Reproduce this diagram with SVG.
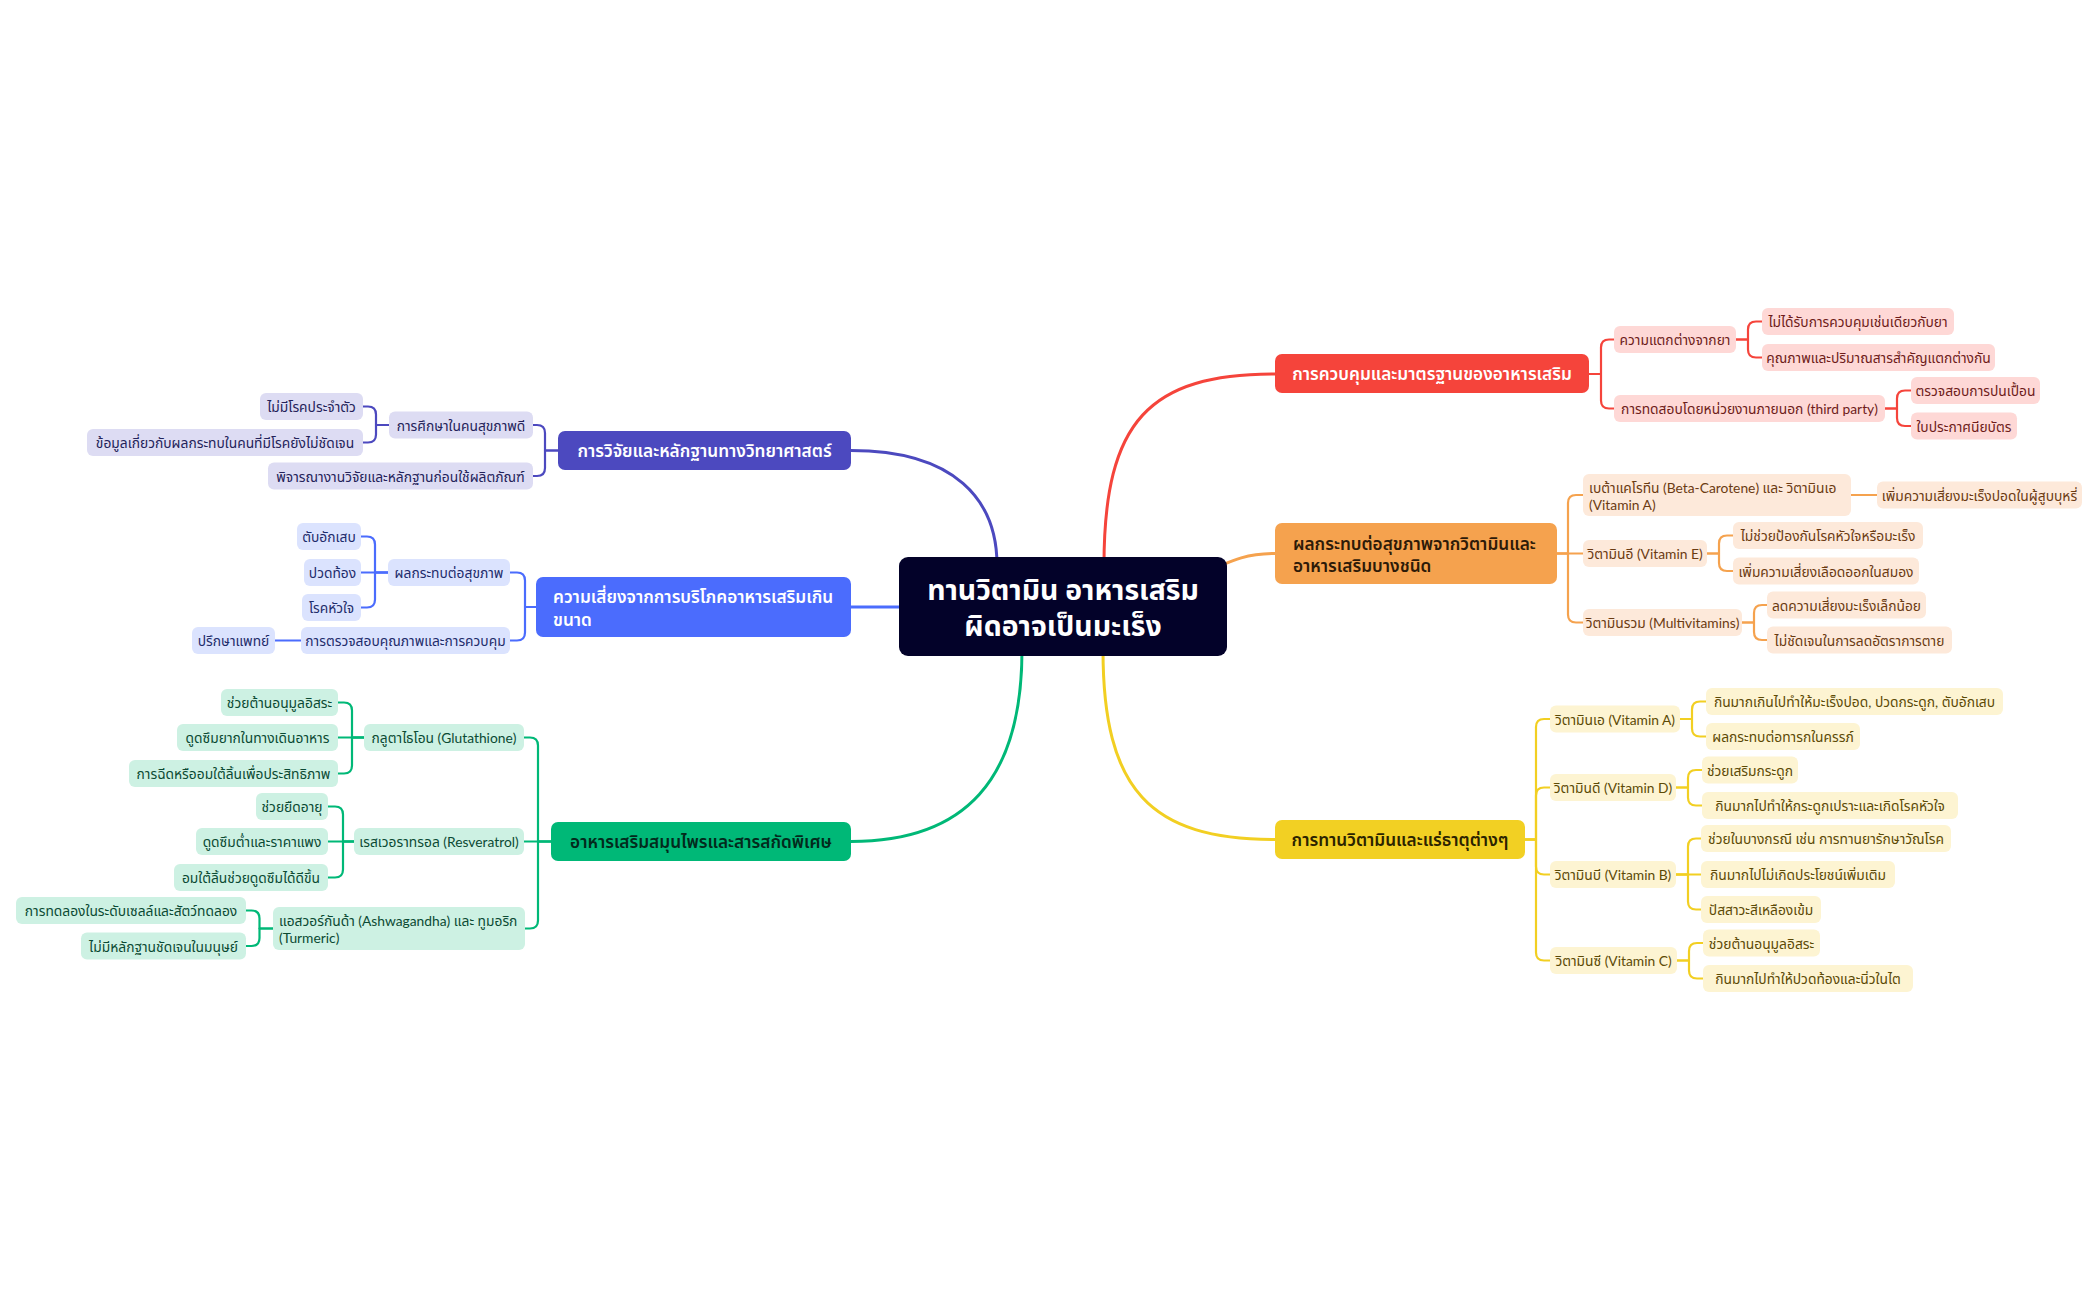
<svg xmlns="http://www.w3.org/2000/svg" width="2099" height="1300" viewBox="0 0 2099 1300">
<style>
text{font-family:Lato,"Noto Sans Thai","Noto Sans Thai UI","Noto Sans","Liberation Sans",sans-serif;}
.t{font-size:13.8px;dominant-baseline:central;text-anchor:middle;}
.tl{font-size:13.8px;dominant-baseline:central;text-anchor:start;}
.m{font-size:17.2px;font-weight:600;dominant-baseline:central;text-anchor:middle;}
.ml{font-size:17.2px;font-weight:600;dominant-baseline:central;text-anchor:start;}
.c{font-size:28.4px;font-weight:700;fill:#fff;dominant-baseline:central;text-anchor:middle;}
.w{fill:#fff;}
path{fill:none;stroke-linecap:round;stroke-linejoin:round;}
.cr{stroke:#f5443b;} .co{stroke:#f5a24e;} .cy{stroke:#f2cf22;} .cp{stroke:#4c49bf;} .cb{stroke:#4b6cfd;} .cg{stroke:#00b877;}
.main{stroke-width:3;} .sub{stroke-width:2.2;}
.br rect{fill:#fed8d6;} .br text{fill:#6e1c1a;}
.bo rect{fill:#fde9da;} .bo text{fill:#6b3b12;}
.by rect{fill:#fdf4d2;} .by text{fill:#5c4a06;}
.bp rect{fill:#dddcf3;} .bp text{fill:#24235a;}
.bb rect{fill:#dbe3fe;} .bb text{fill:#1e2c6b;}
.bg rect{fill:#cdf1e3;} .bg text{fill:#0b4a33;}
</style>
<rect width="2099" height="1300" fill="#fff"/>
<g id="connectors">
<path class="cp main" d="M851 450.5 C955 450.5 997 500 997 565"/>
<path class="cr main" d="M1104 565 C1104 420 1150 374 1275 374"/>
<path class="co main" d="M1200 575 C1235 558 1250 553.5 1275 553.5"/>
<path class="cb main" d="M851 607 H905"/>
<path class="cg main" d="M851 841.5 C965 841.5 1022 780 1022 650"/>
<path class="cy main" d="M1103 650 C1103 790 1150 839.5 1275 839.5"/>
<g class="cr sub">
<path d="M1589 374 H1601 V347.5 Q1601 339.5 1609 339.5 H1614"/>
<path d="M1589 374 H1601 V400.5 Q1601 408.5 1609 408.5 H1614"/>
<path d="M1736 339.5 H1748 V329.5 Q1748 321.5 1756 321.5 H1762"/>
<path d="M1736 339.5 H1748 V349.5 Q1748 357.5 1756 357.5 H1762"/>
<path d="M1885 408.5 H1897 V398.5 Q1897 390.5 1905 390.5 H1911"/>
<path d="M1885 408.5 H1897 V418 Q1897 426 1905 426 H1911"/>
</g>
<g class="co sub">
<path d="M1557 553.5 H1568 V503 Q1568 495 1576 495 H1583"/>
<path d="M1557 553.5 H1583"/>
<path d="M1557 553.5 H1568 V614.5 Q1568 622.5 1576 622.5 H1583"/>
<path d="M1851 495 H1877"/>
<path d="M1707 553.5 H1719 V543.5 Q1719 535.5 1727 535.5 H1733"/>
<path d="M1707 553.5 H1719 V563 Q1719 571 1727 571 H1733"/>
<path d="M1742 622.5 H1754 V613 Q1754 605 1762 605 H1767"/>
<path d="M1742 622.5 H1754 V632 Q1754 640 1762 640 H1767"/>
</g>
<g class="cy sub">
<path d="M1525 839.5 H1536 V727 Q1536 719 1544 719 H1550"/>
<path d="M1525 839.5 H1536 V795.5 Q1536 787.5 1544 787.5 H1550"/>
<path d="M1525 839.5 H1536 V866.5 Q1536 874.5 1544 874.5 H1550"/>
<path d="M1525 839.5 H1536 V952.5 Q1536 960.5 1544 960.5 H1550"/>
<path d="M1680 719 H1692 V709.5 Q1692 701.5 1700 701.5 H1706"/>
<path d="M1680 719 H1692 V728.5 Q1692 736.5 1700 736.5 H1706"/>
<path d="M1676 787.5 H1688 V778 Q1688 770 1696 770 H1702"/>
<path d="M1676 787.5 H1688 V797.5 Q1688 805.5 1696 805.5 H1702"/>
<path d="M1676 874.5 H1688 V846.5 Q1688 838.5 1696 838.5 H1701"/>
<path d="M1676 874.5 H1701"/>
<path d="M1676 874.5 H1688 V901.5 Q1688 909.5 1696 909.5 H1701"/>
<path d="M1677 960.5 H1689 V951 Q1689 943 1697 943 H1703"/>
<path d="M1677 960.5 H1689 V970.5 Q1689 978.5 1697 978.5 H1703"/>
</g>
<g class="cp sub">
<path d="M558 450.5 H545 V433 Q545 425 537 425 H533"/>
<path d="M558 450.5 H545 V468 Q545 476 537 476 H533"/>
<path d="M389 425 H376 V414.5 Q376 406.5 368 406.5 H363"/>
<path d="M389 425 H376 V434.5 Q376 442.5 368 442.5 H363"/>
</g>
<g class="cb sub">
<path d="M536 607 H525 V580.5 Q525 572.5 517 572.5 H510"/>
<path d="M536 607 H525 V632.5 Q525 640.5 517 640.5 H510"/>
<path d="M388 572.5 H375 V544.5 Q375 536.5 367 536.5 H361"/>
<path d="M388 572.5 H361"/>
<path d="M388 572.5 H375 V599.5 Q375 607.5 367 607.5 H361"/>
<path d="M301 640.5 H275"/>
</g>
<g class="cg sub">
<path d="M551 841.5 H538 V745.5 Q538 737.5 530 737.5 H524"/>
<path d="M551 841.5 H524"/>
<path d="M551 841.5 H538 V920.5 Q538 928.5 530 928.5 H525"/>
<path d="M364 737.5 H352 V710.5 Q352 702.5 344 702.5 H338"/>
<path d="M364 737.5 H338"/>
<path d="M364 737.5 H352 V765.5 Q352 773.5 344 773.5 H338"/>
<path d="M354 841.5 H343 V814.5 Q343 806.5 335 806.5 H328"/>
<path d="M354 841.5 H328"/>
<path d="M354 841.5 H343 V869.5 Q343 877.5 335 877.5 H328"/>
<path d="M273 928.5 H259.5 V918.5 Q259.5 910.5 251.5 910.5 H246"/>
<path d="M273 928.5 H259.5 V938 Q259.5 946 251.5 946 H246"/>
</g>
</g>

<g id="root">
<rect x="899" y="557" width="328" height="99" rx="9" fill="#030229"/>
<text class="c" x="1063" y="589">ทานวิตามิน อาหารเสริม<tspan x="1063" dy="35.5">ผิดอาจเป็นมะเร็ง</tspan></text>
</g>

<!-- Red branch -->
<g id="red-main"><rect x="1275" y="354" width="314" height="39" rx="7" fill="#f5443b"/><text class="m w" x="1432" y="373.5">การควบคุมและมาตรฐานของอาหารเสริม</text></g>
<g id="red-1" class="br"><rect x="1614" y="326" width="122" height="27" rx="6"/><text class="t" x="1675" y="339.5">ความแตกต่างจากยา</text></g>
<g id="red-1-1" class="br"><rect x="1762" y="308" width="192" height="27" rx="6"/><text class="t" x="1858" y="321.5">ไม่ได้รับการควบคุมเช่นเดียวกับยา</text></g>
<g id="red-1-2" class="br"><rect x="1762" y="344" width="233" height="27" rx="6"/><text class="t" x="1878.5" y="357.5">คุณภาพและปริมาณสารสำคัญแตกต่างกัน</text></g>
<g id="red-2" class="br"><rect x="1614" y="395" width="271" height="27" rx="6"/><text class="t" x="1749.5" y="408.5">การทดสอบโดยหน่วยงานภายนอก (third party)</text></g>
<g id="red-2-1" class="br"><rect x="1911" y="377" width="129" height="27" rx="6"/><text class="t" x="1975.5" y="390.5">ตรวจสอบการปนเปื้อน</text></g>
<g id="red-2-2" class="br"><rect x="1911" y="412.5" width="106" height="27" rx="6"/><text class="t" x="1964" y="426">ใบประกาศนียบัตร</text></g>

<!-- Orange branch -->
<g id="orange-main"><rect x="1275" y="523" width="282" height="61" rx="7" fill="#f5a24e"/><text class="ml" x="1293" y="543" fill="#2d1a08">ผลกระทบต่อสุขภาพจากวิตามินและ<tspan x="1293" dy="22">อาหารเสริมบางชนิด</tspan></text></g>
<g id="orange-1" class="bo"><rect x="1583" y="474" width="268" height="42" rx="6"/><text class="tl" x="1589" y="487.5">เบต้าแคโรทีน (Beta-Carotene) และ วิตามินเอ<tspan x="1589" dy="16">(Vitamin A)</tspan></text></g>
<g id="orange-1-1" class="bo"><rect x="1877" y="481.5" width="205" height="27" rx="6"/><text class="t" x="1979.5" y="495">เพิ่มความเสี่ยงมะเร็งปอดในผู้สูบบุหรี่</text></g>
<g id="orange-2" class="bo"><rect x="1583" y="540" width="124" height="27" rx="6"/><text class="t" x="1645" y="553.5">วิตามินอี (Vitamin E)</text></g>
<g id="orange-2-1" class="bo"><rect x="1733" y="522" width="190" height="27" rx="6"/><text class="t" x="1828" y="535.5">ไม่ช่วยป้องกันโรคหัวใจหรือมะเร็ง</text></g>
<g id="orange-2-2" class="bo"><rect x="1733" y="557.5" width="186" height="27" rx="6"/><text class="t" x="1826" y="571">เพิ่มความเสี่ยงเลือดออกในสมอง</text></g>
<g id="orange-3" class="bo"><rect x="1583" y="609" width="159" height="27" rx="6"/><text class="t" x="1662.5" y="622.5">วิตามินรวม (Multivitamins)</text></g>
<g id="orange-3-1" class="bo"><rect x="1767" y="591.5" width="159" height="27" rx="6"/><text class="t" x="1846.5" y="605">ลดความเสี่ยงมะเร็งเล็กน้อย</text></g>
<g id="orange-3-2" class="bo"><rect x="1767" y="626.5" width="185" height="27" rx="6"/><text class="t" x="1859.5" y="640">ไม่ชัดเจนในการลดอัตราการตาย</text></g>

<!-- Yellow branch -->
<g id="yellow-main"><rect x="1275" y="820" width="250" height="39" rx="7" fill="#f2d023"/><text class="m" x="1400" y="839.5" fill="#2b2300">การทานวิตามินและแร่ธาตุต่างๆ</text></g>
<g id="yellow-1" class="by"><rect x="1550" y="705.5" width="130" height="27" rx="6"/><text class="t" x="1615" y="719">วิตามินเอ (Vitamin A)</text></g>
<g id="yellow-1-1" class="by"><rect x="1706" y="688" width="297" height="27" rx="6"/><text class="t" x="1854.5" y="701.5">กินมากเกินไปทำให้มะเร็งปอด, ปวดกระดูก, ตับอักเสบ</text></g>
<g id="yellow-1-2" class="by"><rect x="1706" y="723" width="154" height="27" rx="6"/><text class="t" x="1783" y="736.5">ผลกระทบต่อทารกในครรภ์</text></g>
<g id="yellow-2" class="by"><rect x="1550" y="774" width="126" height="27" rx="6"/><text class="t" x="1613" y="787.5">วิตามินดี (Vitamin D)</text></g>
<g id="yellow-2-1" class="by"><rect x="1702" y="756.5" width="96" height="27" rx="6"/><text class="t" x="1750" y="770">ช่วยเสริมกระดูก</text></g>
<g id="yellow-2-2" class="by"><rect x="1702" y="792" width="256" height="27" rx="6"/><text class="t" x="1830" y="805.5">กินมากไปทำให้กระดูกเปราะและเกิดโรคหัวใจ</text></g>
<g id="yellow-3" class="by"><rect x="1550" y="861" width="126" height="27" rx="6"/><text class="t" x="1613" y="874.5">วิตามินบี (Vitamin B)</text></g>
<g id="yellow-3-1" class="by"><rect x="1701" y="825" width="250" height="27" rx="6"/><text class="t" x="1826" y="838.5">ช่วยในบางกรณี เช่น การทานยารักษาวัณโรค</text></g>
<g id="yellow-3-2" class="by"><rect x="1701" y="861" width="194" height="27" rx="6"/><text class="t" x="1798" y="874.5">กินมากไปไม่เกิดประโยชน์เพิ่มเติม</text></g>
<g id="yellow-3-3" class="by"><rect x="1701" y="896" width="120" height="27" rx="6"/><text class="t" x="1761" y="909.5">ปัสสาวะสีเหลืองเข้ม</text></g>
<g id="yellow-4" class="by"><rect x="1550" y="947" width="127" height="27" rx="6"/><text class="t" x="1613.5" y="960.5">วิตามินซี (Vitamin C)</text></g>
<g id="yellow-4-1" class="by"><rect x="1703" y="929.5" width="117" height="27" rx="6"/><text class="t" x="1761.5" y="943">ช่วยต้านอนุมูลอิสระ</text></g>
<g id="yellow-4-2" class="by"><rect x="1703" y="965" width="210" height="27" rx="6"/><text class="t" x="1808" y="978.5">กินมากไปทำให้ปวดท้องและนิ่วในไต</text></g>

<!-- Purple branch -->
<g id="purple-main"><rect x="558" y="431" width="293" height="39" rx="7" fill="#4c49bf"/><text class="m w" x="704.5" y="450.5">การวิจัยและหลักฐานทางวิทยาศาสตร์</text></g>
<g id="purple-1" class="bp"><rect x="389" y="411.5" width="144" height="27" rx="6"/><text class="t" x="461" y="425">การศึกษาในคนสุขภาพดี</text></g>
<g id="purple-1-1" class="bp"><rect x="260" y="393" width="103" height="27" rx="6"/><text class="t" x="311.5" y="406.5">ไม่มีโรคประจำตัว</text></g>
<g id="purple-1-2" class="bp"><rect x="87" y="429" width="276" height="27" rx="6"/><text class="t" x="225" y="442.5">ข้อมูลเกี่ยวกับผลกระทบในคนที่มีโรคยังไม่ชัดเจน</text></g>
<g id="purple-2" class="bp"><rect x="268" y="462.5" width="265" height="27" rx="6"/><text class="t" x="400.5" y="476">พิจารณางานวิจัยและหลักฐานก่อนใช้ผลิตภัณฑ์</text></g>

<!-- Blue branch -->
<g id="blue-main"><rect x="536" y="577" width="315" height="60" rx="7" fill="#4b6cfd"/><text class="ml w" x="553" y="596.5">ความเสี่ยงจากการบริโภคอาหารเสริมเกิน<tspan x="553" dy="22">ขนาด</tspan></text></g>
<g id="blue-1" class="bb"><rect x="388" y="559" width="122" height="27" rx="6"/><text class="t" x="449" y="572.5">ผลกระทบต่อสุขภาพ</text></g>
<g id="blue-1-1" class="bb"><rect x="297" y="523" width="64" height="27" rx="6"/><text class="t" x="329" y="536.5">ตับอักเสบ</text></g>
<g id="blue-1-2" class="bb"><rect x="304" y="559" width="57" height="27" rx="6"/><text class="t" x="332.5" y="572.5">ปวดท้อง</text></g>
<g id="blue-1-3" class="bb"><rect x="302" y="594" width="59" height="27" rx="6"/><text class="t" x="331.5" y="607.5">โรคหัวใจ</text></g>
<g id="blue-2" class="bb"><rect x="301" y="627" width="209" height="27" rx="6"/><text class="t" x="405.5" y="640.5">การตรวจสอบคุณภาพและการควบคุม</text></g>
<g id="blue-2-1" class="bb"><rect x="192" y="627" width="83" height="27" rx="6"/><text class="t" x="233.5" y="640.5">ปรึกษาแพทย์</text></g>

<!-- Green branch -->
<g id="green-main"><rect x="551" y="822" width="300" height="39" rx="7" fill="#00b877"/><text class="m" x="701" y="841.5" fill="#032a1c">อาหารเสริมสมุนไพรและสารสกัดพิเศษ</text></g>
<g id="green-1" class="bg"><rect x="364" y="724" width="160" height="27" rx="6"/><text class="t" x="444" y="737.5">กลูตาไธโอน (Glutathione)</text></g>
<g id="green-1-1" class="bg"><rect x="221" y="689" width="117" height="27" rx="6"/><text class="t" x="279.5" y="702.5">ช่วยต้านอนุมูลอิสระ</text></g>
<g id="green-1-2" class="bg"><rect x="177" y="724" width="161" height="27" rx="6"/><text class="t" x="257.5" y="737.5">ดูดซึมยากในทางเดินอาหาร</text></g>
<g id="green-1-3" class="bg"><rect x="129" y="760" width="209" height="27" rx="6"/><text class="t" x="233.5" y="773.5">การฉีดหรืออมใต้ลิ้นเพื่อประสิทธิภาพ</text></g>
<g id="green-2" class="bg"><rect x="354" y="828" width="170" height="27" rx="6"/><text class="t" x="439" y="841.5">เรสเวอราทรอล (Resveratrol)</text></g>
<g id="green-2-1" class="bg"><rect x="256" y="793" width="72" height="27" rx="6"/><text class="t" x="292" y="806.5">ช่วยยืดอายุ</text></g>
<g id="green-2-2" class="bg"><rect x="196" y="828" width="132" height="27" rx="6"/><text class="t" x="262" y="841.5">ดูดซึมต่ำและราคาแพง</text></g>
<g id="green-2-3" class="bg"><rect x="174" y="864" width="154" height="27" rx="6"/><text class="t" x="251" y="877.5">อมใต้ลิ้นช่วยดูดซึมได้ดีขึ้น</text></g>
<g id="green-3" class="bg"><rect x="273" y="907" width="252" height="43" rx="6"/><text class="tl" x="279" y="920.5">แอสวอร์กันด้า (Ashwagandha) และ ทูมอริก<tspan x="279" dy="16">(Turmeric)</tspan></text></g>
<g id="green-3-1" class="bg"><rect x="16" y="897" width="230" height="27" rx="6"/><text class="t" x="131" y="910.5">การทดลองในระดับเซลล์และสัตว์ทดลอง</text></g>
<g id="green-3-2" class="bg"><rect x="81" y="932.5" width="165" height="27" rx="6"/><text class="t" x="163.5" y="946">ไม่มีหลักฐานชัดเจนในมนุษย์</text></g>
</svg>
